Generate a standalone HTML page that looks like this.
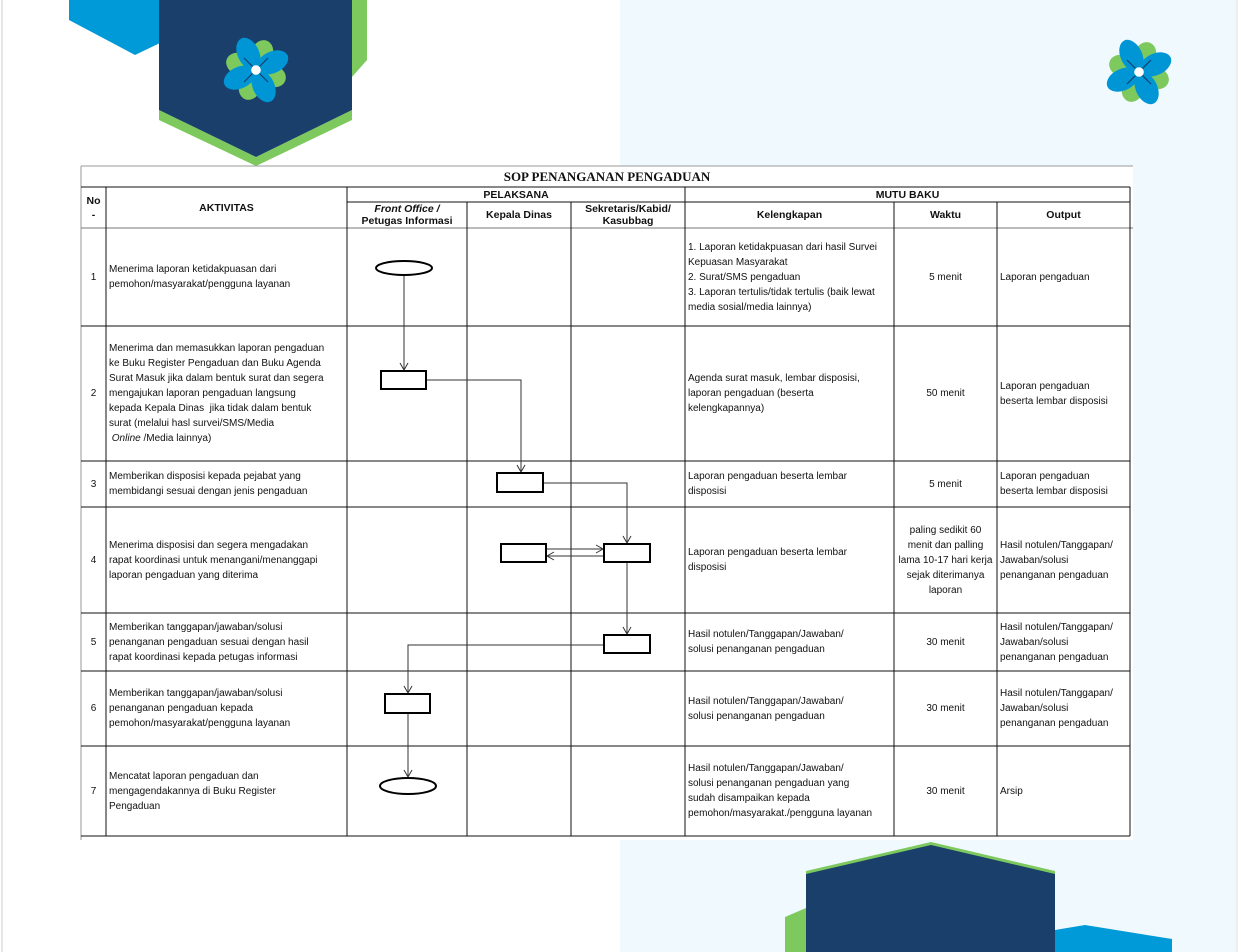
<!DOCTYPE html>
<html><head><meta charset="utf-8"><style>
body{margin:0;width:1241px;height:952px;position:relative;overflow:hidden;background:#fff;font-family:"Liberation Sans",sans-serif;}
.c{position:absolute;display:flex;align-items:center;box-sizing:border-box;padding:0 3px;font-size:10px;line-height:15px;color:#111;}
.n{justify-content:center;text-align:center;}
.h{font-weight:bold;justify-content:center;text-align:center;font-size:10.5px;line-height:12px;}
</style></head><body>
<svg width="1241" height="952" style="position:absolute;left:0;top:0">
<defs>
<g id="fl">
<ellipse cx="0" cy="-15" rx="9" ry="11" fill="#7dc95e" transform="rotate(20)"/>
<ellipse cx="0" cy="-15" rx="9" ry="11" fill="#7dc95e" transform="rotate(110)"/>
<ellipse cx="0" cy="-15" rx="9" ry="11" fill="#7dc95e" transform="rotate(200)"/>
<ellipse cx="0" cy="-15" rx="9" ry="11" fill="#7dc95e" transform="rotate(290)"/>
<ellipse cx="0" cy="-15" rx="9" ry="14" fill="#0096d6" transform="rotate(-25)"/>
<ellipse cx="0" cy="-15" rx="9" ry="14" fill="#0096d6" transform="rotate(65)"/>
<ellipse cx="0" cy="-15" rx="9" ry="14" fill="#0096d6" transform="rotate(155)"/>
<ellipse cx="0" cy="-15" rx="9" ry="14" fill="#0096d6" transform="rotate(245)"/>
<g stroke="#1a3f6b" stroke-width="1"><line x1="-10" y1="-10" x2="10" y2="10"/><line x1="10" y1="-10" x2="-10" y2="10"/></g>
<circle r="4" fill="#fff"/>
</g>
<marker id="a" markerWidth="10" markerHeight="10" refX="8" refY="5" orient="auto" markerUnits="userSpaceOnUse"><path d="M1,1 L8,5 L1,9" fill="none" stroke="#333" stroke-width="1"/></marker>
</defs>
<rect x="620" y="0" width="616" height="952" fill="#f0f9fd"/>
<line x1="2" y1="0" x2="2" y2="952" stroke="#ccc"/>
<line x1="1237" y1="0" x2="1237" y2="952" stroke="#ddd"/>
<polygon points="69,0 160,0 160,43 135,55 69,20" fill="#009ad8"/>
<polygon points="352,0 367,0 367,60 352,77" fill="#7dc95e"/>
<polygon points="159,110 256,157 352,110 352,120 256,166 159,120" fill="#7dc95e"/>
<polygon points="159,0 352,0 352,110 256,157 159,110" fill="#1a3f6b"/>
<use href="#fl" transform="translate(256,70) scale(1.2)"/>
<use href="#fl" transform="translate(1139,72) scale(1.2)"/>
<polygon points="785,917 806,908 806,952 785,952" fill="#7dc95e"/>
<polygon points="806,871 931,842 1055,871 1055,876 806,876" fill="#7dc95e"/>
<polygon points="806,874 931,845 1055,874 1055,952 806,952" fill="#1a3f6b"/>
<polygon points="1055,930 1085,925 1172,939 1172,952 1055,952" fill="#009ad8"/>
<rect x="81" y="166" width="1052" height="674" fill="#fff"/>
<line x1="81" y1="166" x2="1133" y2="166" stroke="#999"/>
<line x1="81" y1="166" x2="81" y2="840" stroke="#999"/>
<g stroke="#111" stroke-width="1" shape-rendering="crispEdges">
<line x1="81" y1="187" x2="1130" y2="187"/>
<line x1="347" y1="202" x2="1130" y2="202"/>
<line x1="81" y1="228" x2="1133" y2="228" stroke="#777"/>
<line x1="81" y1="326" x2="1130" y2="326"/>
<line x1="81" y1="461" x2="1130" y2="461"/>
<line x1="81" y1="507" x2="1130" y2="507"/>
<line x1="81" y1="613" x2="1130" y2="613"/>
<line x1="81" y1="671" x2="1130" y2="671"/>
<line x1="81" y1="746" x2="1130" y2="746"/>
<line x1="81" y1="836" x2="1130" y2="836"/>
<line x1="106" y1="187" x2="106" y2="836"/>
<line x1="347" y1="187" x2="347" y2="836"/>
<line x1="467" y1="202" x2="467" y2="836"/>
<line x1="571" y1="202" x2="571" y2="836"/>
<line x1="685" y1="187" x2="685" y2="836"/>
<line x1="894" y1="202" x2="894" y2="836"/>
<line x1="997" y1="202" x2="997" y2="836"/>
<line x1="1130" y1="187" x2="1130" y2="836"/>
</g>
<g fill="none" stroke="#333" stroke-width="1">
<path d="M404,276 V370" marker-end="url(#a)"/>
<path d="M426,380 H521 V472" marker-end="url(#a)"/>
<path d="M543,483 H627 V543" marker-end="url(#a)"/>
<path d="M546,549 H603" marker-end="url(#a)"/>
<path d="M604,556 H547" marker-end="url(#a)"/>
<path d="M627,562 V634" marker-end="url(#a)"/>
<path d="M604,645 H408 V693" marker-end="url(#a)"/>
<path d="M408,713 V777" marker-end="url(#a)"/>
</g>
<g fill="#fff" stroke="#000" stroke-width="2">
<ellipse cx="404" cy="268" rx="28" ry="7"/>
<rect x="381" y="371" width="45" height="18"/>
<rect x="497" y="473" width="46" height="19"/>
<rect x="501" y="544" width="45" height="18"/>
<rect x="604" y="544" width="46" height="18"/>
<rect x="604" y="635" width="46" height="18"/>
<rect x="385" y="694" width="45" height="19"/>
<ellipse cx="408" cy="786" rx="28" ry="8"/>
</g>
</svg>
<div class="c n" style="left:81px;top:166px;width:1052px;height:21px;font-family:'Liberation Serif',serif;font-weight:bold;font-size:13px;">SOP PENANGANAN PENGADUAN</div>
<div class="c h" style="left:81px;top:187px;width:25px;height:41px;line-height:14px;">No<br>-</div>
<div class="c h" style="left:106px;top:187px;width:241px;height:41px;">AKTIVITAS</div>
<div class="c h" style="left:347px;top:187px;width:338px;height:15px;">PELAKSANA</div>
<div class="c h" style="left:685px;top:187px;width:445px;height:15px;">MUTU BAKU</div>
<div class="c h" style="left:347px;top:202px;width:120px;height:26px;"><span><i>Front Office /</i><br>Petugas Informasi</span></div>
<div class="c h" style="left:467px;top:202px;width:104px;height:26px;">Kepala Dinas</div>
<div class="c h" style="left:571px;top:202px;width:114px;height:26px;">Sekretaris/Kabid/<br>Kasubbag</div>
<div class="c h" style="left:685px;top:202px;width:209px;height:26px;">Kelengkapan</div>
<div class="c h" style="left:894px;top:202px;width:103px;height:26px;">Waktu</div>
<div class="c h" style="left:997px;top:202px;width:133px;height:26px;">Output</div>

<div class="c n" style="left:81px;top:228px;width:25px;height:98px;">1</div>
<div class="c" style="left:106px;top:228px;width:241px;height:98px;">Menerima laporan ketidakpuasan dari<br>pemohon/masyarakat/pengguna layanan</div>
<div class="c" style="left:685px;top:228px;width:209px;height:98px;">1. Laporan ketidakpuasan dari hasil Survei<br>Kepuasan Masyarakat<br>2. Surat/SMS pengaduan<br>3. Laporan tertulis/tidak tertulis (baik lewat<br>media sosial/media lainnya)</div>
<div class="c n" style="left:894px;top:228px;width:103px;height:98px;">5 menit</div>
<div class="c" style="left:997px;top:228px;width:133px;height:98px;">Laporan pengaduan</div>

<div class="c n" style="left:81px;top:326px;width:25px;height:135px;">2</div>
<div class="c" style="left:106px;top:326px;width:241px;height:135px;"><span>Menerima dan memasukkan laporan pengaduan<br>ke Buku Register Pengaduan dan Buku Agenda<br>Surat Masuk jika dalam bentuk surat dan segera<br>mengajukan laporan pengaduan langsung<br>kepada Kepala Dinas &nbsp;jika tidak dalam bentuk<br>surat (melalui hasl survei/SMS/Media<br>&nbsp;<i>Online</i> /Media lainnya)</span></div>
<div class="c" style="left:685px;top:326px;width:209px;height:135px;">Agenda surat masuk, lembar disposisi,<br>laporan pengaduan (beserta<br>kelengkapannya)</div>
<div class="c n" style="left:894px;top:326px;width:103px;height:135px;">50 menit</div>
<div class="c" style="left:997px;top:326px;width:133px;height:135px;">Laporan pengaduan<br>beserta lembar disposisi</div>

<div class="c n" style="left:81px;top:461px;width:25px;height:46px;">3</div>
<div class="c" style="left:106px;top:461px;width:241px;height:46px;">Memberikan disposisi kepada pejabat yang<br>membidangi sesuai dengan jenis pengaduan</div>
<div class="c" style="left:685px;top:461px;width:209px;height:46px;">Laporan pengaduan beserta lembar<br>disposisi</div>
<div class="c n" style="left:894px;top:461px;width:103px;height:46px;">5 menit</div>
<div class="c" style="left:997px;top:461px;width:133px;height:46px;">Laporan pengaduan<br>beserta lembar disposisi</div>

<div class="c n" style="left:81px;top:507px;width:25px;height:106px;">4</div>
<div class="c" style="left:106px;top:507px;width:241px;height:106px;">Menerima disposisi dan segera mengadakan<br>rapat koordinasi untuk menangani/menanggapi<br>laporan pengaduan yang diterima</div>
<div class="c" style="left:685px;top:507px;width:209px;height:106px;">Laporan pengaduan beserta lembar<br>disposisi</div>
<div class="c n" style="left:894px;top:507px;width:103px;height:106px;">paling sedikit 60<br>menit dan palling<br>lama 10-17 hari kerja<br>sejak diterimanya<br>laporan</div>
<div class="c" style="left:997px;top:507px;width:133px;height:106px;">Hasil notulen/Tanggapan/<br>Jawaban/solusi<br>penanganan pengaduan</div>

<div class="c n" style="left:81px;top:613px;width:25px;height:58px;">5</div>
<div class="c" style="left:106px;top:613px;width:241px;height:58px;">Memberikan tanggapan/jawaban/solusi<br>penanganan pengaduan sesuai dengan hasil<br>rapat koordinasi kepada petugas informasi</div>
<div class="c" style="left:685px;top:613px;width:209px;height:58px;">Hasil notulen/Tanggapan/Jawaban/<br>solusi penanganan pengaduan</div>
<div class="c n" style="left:894px;top:613px;width:103px;height:58px;">30 menit</div>
<div class="c" style="left:997px;top:613px;width:133px;height:58px;">Hasil notulen/Tanggapan/<br>Jawaban/solusi<br>penanganan pengaduan</div>

<div class="c n" style="left:81px;top:671px;width:25px;height:75px;">6</div>
<div class="c" style="left:106px;top:671px;width:241px;height:75px;">Memberikan tanggapan/jawaban/solusi<br>penanganan pengaduan kepada<br>pemohon/masyarakat/pengguna layanan</div>
<div class="c" style="left:685px;top:671px;width:209px;height:75px;">Hasil notulen/Tanggapan/Jawaban/<br>solusi penanganan pengaduan</div>
<div class="c n" style="left:894px;top:671px;width:103px;height:75px;">30 menit</div>
<div class="c" style="left:997px;top:671px;width:133px;height:75px;">Hasil notulen/Tanggapan/<br>Jawaban/solusi<br>penanganan pengaduan</div>

<div class="c n" style="left:81px;top:746px;width:25px;height:90px;">7</div>
<div class="c" style="left:106px;top:746px;width:241px;height:90px;">Mencatat laporan pengaduan dan<br>mengagendakannya di Buku Register<br>Pengaduan</div>
<div class="c" style="left:685px;top:746px;width:209px;height:90px;">Hasil notulen/Tanggapan/Jawaban/<br>solusi penanganan pengaduan yang<br>sudah disampaikan kepada<br>pemohon/masyarakat./pengguna layanan</div>
<div class="c n" style="left:894px;top:746px;width:103px;height:90px;">30 menit</div>
<div class="c" style="left:997px;top:746px;width:133px;height:90px;">Arsip</div>
</body></html>
